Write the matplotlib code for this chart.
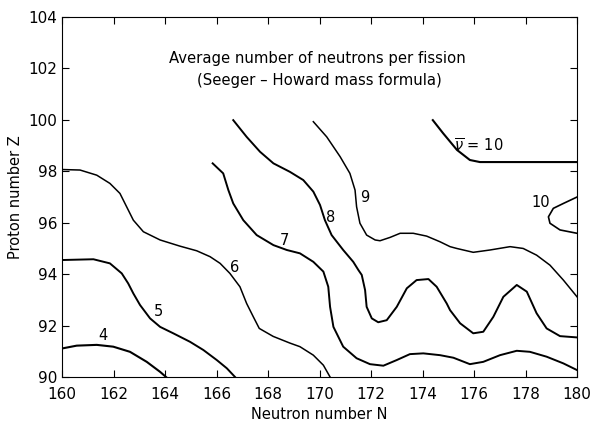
import matplotlib
matplotlib.use("Agg")
import matplotlib.pyplot as plt

# contour lines of average neutron number (N, Z)
n4 = [160.0, 160.57, 161.35, 161.99, 162.64, 163.29, 163.81, 164.04]
z4 = [91.11, 91.22, 91.25, 91.18, 90.98, 90.59, 90.20, 90.0]

n5 = [160.0, 161.22, 161.86, 162.32, 162.57, 162.77, 163.03, 163.42, 163.81, 164.32,
      164.97, 165.49, 166.01, 166.40, 166.72]
z5 = [94.55, 94.58, 94.42, 94.03, 93.64, 93.25, 92.80, 92.28, 91.95, 91.70,
      91.37, 91.05, 90.66, 90.34, 90.0]

n6 = [160.0, 160.70, 161.35, 161.86, 162.25, 162.51, 162.77, 163.16, 163.81, 164.58,
      165.23, 165.75, 166.14, 166.52, 166.91, 167.17, 167.43, 167.66, 168.2, 168.85,
      169.24, 169.76, 170.15, 170.41]
z6 = [98.07, 98.05, 97.85, 97.53, 97.14, 96.62, 96.10, 95.65, 95.33, 95.09,
      94.91, 94.68, 94.42, 94.03, 93.51, 92.86, 92.34, 91.89, 91.58, 91.32,
      91.18, 90.85, 90.46, 90.0]

n7 = [165.85, 166.26, 166.46, 166.65, 167.04, 167.56, 168.21, 168.73, 169.24, 169.76,
      170.15, 170.34, 170.41, 170.54, 170.92, 171.44, 171.96, 172.48, 173.0, 173.51,
      174.03, 174.68, 175.2, 175.84, 176.36, 177.01, 177.66, 178.17, 178.82, 179.47, 180.0]
z7 = [98.31, 97.92, 97.27, 96.75, 96.10, 95.52, 95.13, 94.94, 94.81, 94.48,
      94.10, 93.51, 92.73, 91.95, 91.18, 90.73, 90.50, 90.44, 90.66, 90.89,
      90.92, 90.85, 90.75, 90.50, 90.59, 90.85, 91.02, 90.98, 90.79, 90.53, 90.27]

n8 = [166.65, 167.17, 167.69, 168.21, 168.85, 169.37, 169.76, 170.02, 170.21, 170.47,
      170.92, 171.31, 171.51, 171.64, 171.77, 171.83, 172.03, 172.28, 172.61, 173.0,
      173.39, 173.77, 174.23, 174.55, 174.94, 175.07, 175.46, 175.97, 176.36, 176.75,
      177.14, 177.66, 178.05, 178.43, 178.82, 179.34, 180.0]
z8 = [99.99, 99.34, 98.76, 98.31, 97.98, 97.66, 97.21, 96.69, 96.10, 95.52,
      94.94, 94.48, 94.16, 93.97, 93.38, 92.73, 92.28, 92.13, 92.21, 92.73,
      93.45, 93.77, 93.81, 93.51, 92.86, 92.60, 92.09, 91.70, 91.76, 92.34,
      93.12, 93.58, 93.32, 92.48, 91.89, 91.59, 91.54]

n9 = [169.76, 170.28, 170.80, 171.18, 171.38, 171.44, 171.57, 171.83, 172.16, 172.35,
      172.74, 173.13, 173.64, 174.16, 174.68, 175.07, 175.33, 175.97, 176.62, 177.40,
      177.91, 178.43, 178.95, 179.47, 180.0]
z9 = [99.93, 99.34, 98.57, 97.92, 97.27, 96.62, 95.98, 95.52, 95.33, 95.30,
      95.43, 95.59, 95.59, 95.48, 95.26, 95.07, 95.0, 94.85, 94.94, 95.07,
      95.0, 94.74, 94.35, 93.77, 93.12]

n10a = [174.4, 174.8, 175.34, 175.84, 176.23, 177.0, 180.0]
z10a = [99.99, 99.48, 98.83, 98.44, 98.36, 98.36, 98.36]

n10b = [180.0, 179.47, 179.08, 178.89, 178.95, 179.34, 180.0]
z10b = [97.0, 96.75, 96.56, 96.23, 95.98, 95.72, 95.59]

curves = [(n4, z4, 1.5), (n5, z5, 1.4), (n6, z6, 1.1), (n7, z7, 1.4),
          (n8, z8, 1.4), (n9, z9, 1.1), (n10a, z10a, 1.5), (n10b, z10b, 1.2)]

labels = [("4", 161.6, 91.6), ("5", 163.75, 92.55), ("6", 166.7, 94.25),
          ("7", 168.65, 95.3), ("8", 170.45, 96.2), ("9", 171.75, 97.0),
          ("10", 178.6, 96.8), (r"$\overline{\nu}$ = 10", 176.2, 99.0)]

fig = plt.figure(figsize=(5.94, 4.22), dpi=100)
ax = fig.add_axes([0.1044, 0.1066, 0.867, 0.853])

for n, z, lw in curves:
    ax.plot(n, z, color="black", lw=lw, solid_joinstyle="round")

for txt, x, y in labels:
    ax.text(x, y, txt, fontsize=10.5, ha="center", va="center")

ax.text(169.9, 102.4, "Average number of neutrons per fission",
        fontsize=10.7, ha="center", va="center")
ax.text(170.0, 101.55, "(Seeger – Howard mass formula)",
        fontsize=10.7, ha="center", va="center")

ax.set_xlim(160, 180)
ax.set_ylim(90, 104)
ax.set_xticks(range(160, 181, 2))
ax.set_yticks(range(90, 105, 2))
ax.tick_params(direction="in", length=5, top=True, right=True, labelsize=11)
ax.tick_params(axis="x", pad=7)
ax.set_xlabel("Neutron number N", fontsize=10.5)
ax.set_ylabel("Proton number Z", fontsize=10.5)

fig.savefig("out.png", dpi=100)
